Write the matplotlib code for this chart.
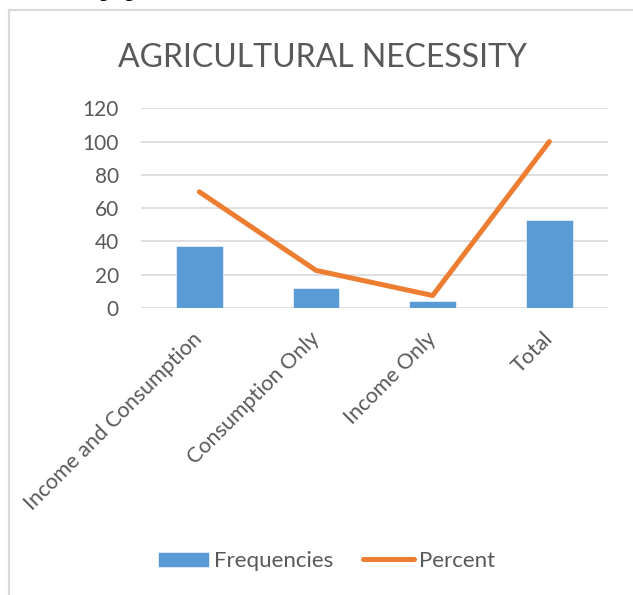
import matplotlib
matplotlib.use("Agg")
import matplotlib.pyplot as plt
from matplotlib.patches import Rectangle

plt.rcParams["font.family"] = ["Lato", "DejaVu Sans"]

categories = ["Income and Consumption", "Consumption Only", "Income Only", "Total"]
frequencies = [37, 12, 4, 53]
percent = [69.8, 22.6, 7.5, 100.0]
y_ticks = [0, 20, 40, 60, 80, 100, 120]

text_grey = "#595959"
bar_blue = "#5B9BD5"
line_orange = "#ED7D31"
grid_grey = "#D9D9D9"

W, H = 633, 595
fig = plt.figure(figsize=(W / 100, H / 100), dpi=100)

# chart frame (runs off the right and bottom edges of the crop)
fig.patches.append(Rectangle((8.7 / W, -0.2), 1.2, 1.2 - 10.3 / H,
                             transform=fig.transFigure, fill=False,
                             ec=grid_grey, lw=1.6))
# cut-off text from the page above
fig.text(100 / W, 1 + 3 / H, "y  y", family="DejaVu Serif", weight="bold",
         style="italic", fontsize=15, va="baseline", ha="left", color="black")

ax = fig.add_axes([141 / W, 1 - 308 / H, (607.7 - 141) / W, (308 - 108.3) / H])
x = list(range(len(categories)))
bars = ax.bar(x, frequencies, width=0.4, color=bar_blue, ec="white", lw=0.4,
              label="Frequencies", zorder=2)
line, = ax.plot(x, percent, color=line_orange, lw=3.6, solid_capstyle="round",
                solid_joinstyle="round", label="Percent", zorder=3)

ax.set_xlim(-0.5, len(categories) - 0.5)
ax.set_ylim(0, 120)
ax.set_yticks(y_ticks)
ax.grid(axis="y", color=grid_grey, lw=1.2, zorder=0)
ax.set_axisbelow(True)
for s in ax.spines.values():
    s.set_visible(False)
ax.tick_params(axis="y", length=0, pad=16, labelsize=15, labelcolor=text_grey)
ax.tick_params(axis="x", length=0, pad=20, labelsize=15.5, labelcolor=text_grey)
ax.set_xticks(x)
ax.set_xticklabels(categories, rotation=45, ha="right", va="center",
                   rotation_mode="anchor")

fig.text(322 / W, 1 - 67 / H, "AGRICULTURAL NECESSITY", ha="center",
         va="baseline", fontsize=23, color=text_grey)

ax.legend([bars, line], ["Frequencies", "Percent"], loc="center",
          bbox_to_anchor=(326.5 / W, 1 - 561 / H),
          bbox_transform=fig.transFigure, ncol=2, frameon=False,
          fontsize=16, labelcolor=text_grey, handlelength=2.3,
          handleheight=0.65, handletextpad=0.25, columnspacing=1.3)

fig.savefig("out.png", dpi=100)
